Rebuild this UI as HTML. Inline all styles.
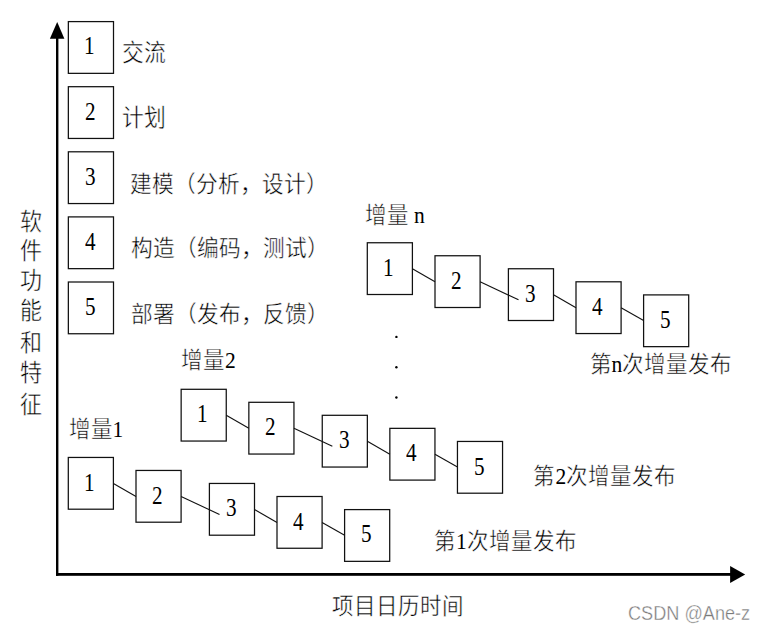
<!DOCTYPE html><html lang="zh-CN"><head><meta charset="utf-8"><style>
html,body{margin:0;padding:0;background:#fff;width:765px;height:630px;overflow:hidden}
body{position:relative;font-family:"Liberation Serif",serif;color:#000}
.t{position:absolute;white-space:nowrap;line-height:1;font-size:22px;transform-origin:0 0;-webkit-text-stroke:0.45px #fff}
.l,.d{-webkit-text-stroke:0}
svg{position:absolute;left:0;top:0}
.wm{position:absolute;font-family:"Liberation Sans",sans-serif;color:#7a7a7a;-webkit-text-stroke:0.35px #fff;white-space:nowrap;line-height:1;transform-origin:0 0}
</style></head><body>

<svg width="765" height="630" viewBox="0 0 765 630">
<g fill="none" stroke="#111" stroke-width="1.25"><rect x="68.30" y="457.45" width="45.10" height="51.75"/><rect x="136.00" y="470.45" width="45.10" height="51.75"/><rect x="209.40" y="483.45" width="45.10" height="51.75"/><rect x="277.00" y="496.50" width="45.10" height="51.75"/><rect x="344.60" y="509.60" width="45.10" height="51.75"/><rect x="181.15" y="389.30" width="45.10" height="51.75"/><rect x="248.85" y="402.30" width="45.10" height="51.75"/><rect x="322.25" y="415.30" width="45.10" height="51.75"/><rect x="389.85" y="428.35" width="45.10" height="51.75"/><rect x="457.45" y="441.45" width="45.10" height="51.75"/><rect x="367.30" y="242.75" width="45.10" height="51.75"/><rect x="435.00" y="255.75" width="45.10" height="51.75"/><rect x="508.40" y="268.75" width="45.10" height="51.75"/><rect x="576.00" y="281.80" width="45.10" height="51.75"/><rect x="643.60" y="294.90" width="45.10" height="51.75"/><rect x="68.35" y="21.60" width="45.15" height="51.75"/><rect x="68.35" y="86.70" width="45.15" height="51.75"/><rect x="68.35" y="151.80" width="45.15" height="51.75"/><rect x="68.35" y="216.90" width="45.15" height="51.75"/><rect x="68.35" y="282.00" width="45.15" height="51.75"/></g><g stroke="#111" stroke-width="1.1"><line x1="113.40" y1="483.50" x2="136.00" y2="496.40"/><line x1="181.10" y1="496.40" x2="219.50" y2="514.50"/><line x1="254.50" y1="509.50" x2="277.00" y2="522.40"/><line x1="322.10" y1="522.50" x2="344.60" y2="535.20"/><line x1="226.25" y1="415.35" x2="248.85" y2="428.25"/><line x1="293.95" y1="428.25" x2="332.35" y2="446.35"/><line x1="367.35" y1="441.35" x2="389.85" y2="454.25"/><line x1="434.95" y1="454.35" x2="457.45" y2="467.05"/><line x1="412.40" y1="268.80" x2="435.00" y2="281.70"/><line x1="480.10" y1="281.70" x2="518.50" y2="299.80"/><line x1="553.50" y1="294.80" x2="576.00" y2="307.70"/><line x1="621.10" y1="307.80" x2="643.60" y2="320.50"/></g>
<g fill="#000"><rect x="56.0" y="36" width="2.4" height="539.8"/><rect x="56.0" y="573.0" width="676" height="2.8"/><path d="M57.2 22.1 L64.4 38.8 L49.9 38.8 Z"/><path d="M745.2 574.4 L730.1 565.9 L730.1 583 Z"/><circle cx="396.4" cy="336.9" r="1.2"/><circle cx="396.4" cy="367.3" r="1.2"/><circle cx="396.4" cy="397.5" r="1.2"/></g>
</svg>
<div class="t d" style="left:83.87px;top:469.60px;font-size:23px;transform:scale(0.92,1.1)">1</div>
<div class="t d" style="left:151.98px;top:482.70px;font-size:23px;transform:scale(0.92,1.1)">2</div>
<div class="t d" style="left:226.28px;top:495.10px;font-size:23px;transform:scale(0.92,1.1)">3</div>
<div class="t d" style="left:293.48px;top:508.60px;font-size:23px;transform:scale(0.92,1.1)">4</div>
<div class="t d" style="left:360.58px;top:521.20px;font-size:23px;transform:scale(0.92,1.1)">5</div>
<div class="t d" style="left:197.18px;top:400.90px;font-size:23px;transform:scale(0.92,1.1)">1</div>
<div class="t d" style="left:265.27px;top:414.00px;font-size:23px;transform:scale(0.92,1.1)">2</div>
<div class="t d" style="left:338.58px;top:427.40px;font-size:23px;transform:scale(0.92,1.1)">3</div>
<div class="t d" style="left:405.78px;top:439.90px;font-size:23px;transform:scale(0.92,1.1)">4</div>
<div class="t d" style="left:473.88px;top:453.50px;font-size:23px;transform:scale(0.92,1.1)">5</div>
<div class="t d" style="left:382.87px;top:254.50px;font-size:23px;transform:scale(0.92,1.1)">1</div>
<div class="t d" style="left:450.98px;top:267.60px;font-size:23px;transform:scale(0.92,1.1)">2</div>
<div class="t d" style="left:525.27px;top:281.00px;font-size:23px;transform:scale(0.92,1.1)">3</div>
<div class="t d" style="left:592.47px;top:293.50px;font-size:23px;transform:scale(0.92,1.1)">4</div>
<div class="t d" style="left:659.57px;top:307.10px;font-size:23px;transform:scale(0.92,1.1)">5</div>
<div class="t d" style="left:84.25px;top:33.10px;font-size:23px;transform:scale(0.92,1.1)">1</div>
<div class="t d" style="left:85.25px;top:98.60px;font-size:23px;transform:scale(0.92,1.1)">2</div>
<div class="t d" style="left:84.75px;top:163.70px;font-size:23px;transform:scale(0.92,1.1)">3</div>
<div class="t d" style="left:85.25px;top:228.50px;font-size:23px;transform:scale(0.92,1.1)">4</div>
<div class="t d" style="left:84.75px;top:293.90px;font-size:23px;transform:scale(0.92,1.1)">5</div>
<div class="t" style="left:122.20px;top:43.00px;font-size:21.8px;transform:scale(1,1.08)">交流</div>
<div class="t" style="left:122.10px;top:108.00px;font-size:21.8px;transform:scale(1,1.08)">计划</div>
<div class="t" style="left:129.90px;top:173.80px;font-size:21.7px;transform:scale(1,1.07)">建模（分析，设计）</div>
<div class="t" style="left:130.60px;top:238.30px;font-size:21.7px;transform:scale(1,1.07)">构造（编码，测试）</div>
<div class="t" style="left:130.60px;top:303.80px;font-size:21.7px;transform:scale(1,1.07)">部署（发布，反馈）</div>
<div class="t" style="left:68.60px;top:418.80px;font-size:21.5px;transform:scale(1,1.07)">增量<span class="l">1</span></div>
<div class="t" style="left:181.10px;top:350.00px;font-size:21.5px;transform:scale(1,1.07)">增量<span class="l">2</span></div>
<div class="t" style="left:364.70px;top:205.10px;font-size:21.5px;transform:scale(1,1.07)">增量 <span class="l">n</span></div>
<div class="t" style="left:589.50px;top:354.00px;font-size:21.5px;transform:scale(1,1.05)">第<span class="l">n</span>次增量发布</div>
<div class="t" style="left:533.40px;top:466.10px;font-size:21.5px;transform:scale(1,1.05)">第<span class="l">2</span>次增量发布</div>
<div class="t" style="left:434.10px;top:531.10px;font-size:21.5px;transform:scale(1,1.05)">第<span class="l">1</span>次增量发布</div>
<div class="t" style="left:332.00px;top:596.00px;font-size:21.5px;transform:scale(1,1.05)">项目日历时间</div>
<div class="t" style="left:20.30px;top:210.60px;font-size:22px;transform:scale(1,1.08)">软</div>
<div class="t" style="left:20.30px;top:239.70px;font-size:22px;transform:scale(1,1.08)">件</div>
<div class="t" style="left:20.30px;top:269.90px;font-size:22px;transform:scale(1,1.08)">功</div>
<div class="t" style="left:20.30px;top:300.30px;font-size:22px;transform:scale(1,1.08)">能</div>
<div class="t" style="left:20.30px;top:332.00px;font-size:22px;transform:scale(1,1.08)">和</div>
<div class="t" style="left:20.30px;top:362.00px;font-size:22px;transform:scale(1,1.08)">特</div>
<div class="t" style="left:20.30px;top:394.00px;font-size:22px;transform:scale(1,1.08)">征</div>
<div class="wm" style="left:627.70px;top:603.70px;font-size:18.5px;transform:scale(0.98,1.06)">CSDN @Ane-z</div>
</body></html>
